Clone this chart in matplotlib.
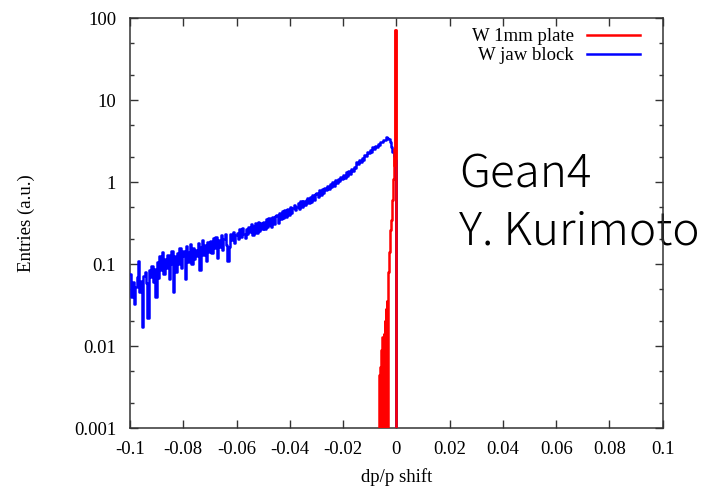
#!/usr/bin/env python3
"""
dp/p shift distribution for W 1mm plate vs W jaw block (Geant4)
"""
import numpy as np
import matplotlib
matplotlib.use('Agg')
import matplotlib.pyplot as plt
from matplotlib.ticker import LogLocator, NullFormatter, FuncFormatter

# --- data ---
# W jaw block: 200 bins of 0.0005 from -0.1 to 0
jaw_lo, jaw_hi = -0.1, 0.0
jaw_entries = [
    0.075, 0.040, 0.060, 0.033, 0.052, 0.070, 0.110, 0.045, 0.062, 0.017,
    0.072, 0.080, 0.058, 0.022, 0.085, 0.070, 0.095, 0.060, 0.088, 0.040,
    0.105, 0.068, 0.125, 0.085, 0.140, 0.075, 0.115, 0.090, 0.130, 0.065,
    0.100, 0.145, 0.045, 0.125, 0.080, 0.135, 0.100, 0.155, 0.090, 0.125,
    0.145, 0.065, 0.165, 0.105, 0.140, 0.175, 0.100, 0.155, 0.115, 0.150,
    0.125, 0.180, 0.085, 0.160, 0.195, 0.130, 0.170, 0.110, 0.185, 0.140,
    0.190, 0.135, 0.205, 0.155, 0.215, 0.120, 0.195, 0.160, 0.225, 0.150,
    0.200, 0.235, 0.170, 0.110, 0.160, 0.230, 0.195, 0.245, 0.180, 0.225,
    0.240, 0.200, 0.265, 0.215, 0.275, 0.230, 0.205, 0.265, 0.235, 0.280,
    0.245, 0.310, 0.225, 0.295, 0.320, 0.240, 0.330, 0.255, 0.315, 0.265,
    0.330, 0.265, 0.355, 0.280, 0.365, 0.300, 0.285, 0.375, 0.310, 0.385,
    0.395, 0.320, 0.425, 0.350, 0.445, 0.365, 0.460, 0.375, 0.475, 0.395,
    0.490, 0.420, 0.480, 0.530, 0.455, 0.500, 0.560, 0.470, 0.585, 0.500,
    0.590, 0.520, 0.605, 0.645, 0.550, 0.665, 0.575, 0.695, 0.605, 0.720,
    0.735, 0.660, 0.790, 0.690, 0.820, 0.745, 0.840, 0.790, 0.905, 0.830,
    0.950, 0.865, 1.010, 0.905, 1.060, 0.965, 1.080, 1.020, 1.160, 1.075,
    1.220, 1.120, 1.310, 1.180, 1.360, 1.265, 1.440, 1.345, 1.540, 1.480,
    1.740, 1.640, 1.870, 1.750, 1.980, 1.880, 2.120, 2.050, 2.300, 2.240,
    2.490, 2.350, 2.640, 2.500, 2.760, 2.680, 2.940, 2.860, 3.120, 3.050,
    3.300, 3.250, 3.500, 3.420, 3.380, 3.050, 2.700, 2.350, 2.050, 1.850,
]

# W 1mm plate: 32 bins of 0.0002 from -0.0066 to -0.0002 (0 = empty bin)
plate_lo, plate_hi = -0.0066, -0.0002
plate_entries = [
    0, 0.0045, 0, 0.0055, 0, 0.009, 0, 0.013, 0, 0.014,
    0, 0.020, 0, 0.028, 0, 0.035, 0, 0.060, 0.080, 0.10,
    0.14, 0.19, 0.26, 0.34, 0.45, 0.60, 0.80, 1.10, 1.60, 2.50,
    16.0, 72.0,
]

x_ticks = [-0.1, -0.08, -0.06, -0.04, -0.02, 0, 0.02, 0.04, 0.06, 0.08, 0.1]
y_ticks = [0.001, 0.01, 0.1, 1, 10, 100]


def step_xy(lo, hi, vals, open_left=False):
    # histogram outline, dropping to zero at the ends
    edges = np.linspace(lo, hi, len(vals) + 1)
    xs = np.repeat(edges, 2)
    ys = np.concatenate([[0], np.repeat(vals, 2), [0]])
    if open_left:
        xs, ys = xs[1:], ys[1:]
    return xs, ys


plt.rcParams['font.family'] = ['Liberation Serif', 'DejaVu Serif']
plt.rcParams['axes.unicode_minus'] = False
plt.rcParams['path.simplify'] = False

fig = plt.figure(figsize=(7.18, 4.87), dpi=100)
ax = fig.add_axes([0.181, 0.121, 0.742, 0.842])

px, py = step_xy(plate_lo, plate_hi, plate_entries)
jx, jy = step_xy(jaw_lo, jaw_hi, jaw_entries, open_left=True)
ax.plot(px, py, color='#ff0000', linewidth=1.8, label='W 1mm plate', zorder=3)
ax.plot(jx, jy, color='#0000ff', linewidth=1.8, label='W jaw block', zorder=4)
# spike of the plate histogram sits on top of the jaw curve
ax.plot(px[-8:], py[-8:], color='#ff0000', linewidth=1.8, zorder=5)

ax.set_yscale('log')
ax.set_xlim(-0.1, 0.1)
ax.set_ylim(0.001, 100)

ax.set_xticks(x_ticks)
ax.xaxis.set_major_formatter(FuncFormatter(lambda v, p: f'{v:g}'))
ax.set_yticks(y_ticks)
ax.yaxis.set_major_formatter(FuncFormatter(lambda v, p: f'{v:g}'))
ax.yaxis.set_minor_locator(LogLocator(base=10, subs=(2, 5)))
ax.yaxis.set_minor_formatter(NullFormatter())

ax.tick_params(which='both', direction='in', top=True, right=True,
               color='#333333', labelsize=13.5)
ax.tick_params(which='major', length=6, width=1)
ax.tick_params(which='minor', length=3, width=1)
ax.tick_params(axis='y', pad=10)
ax.tick_params(axis='x', pad=9)
for s in ax.spines.values():
    s.set_color('#333333')
    s.set_linewidth(1.1)

ax.set_xlabel('dp/p shift', fontsize=13.5)
ax.set_ylabel('Entries (a.u.)', fontsize=13.5)
ax.yaxis.set_label_coords(-0.178, 0.5)
ax.xaxis.set_label_coords(0.5, -0.098)

ax.legend(loc='upper right', bbox_to_anchor=(0.957, 0.975), frameon=False,
          markerfirst=False, fontsize=13.5, handlelength=2.8,
          handletextpad=0.7, labelspacing=0.1, borderpad=0, borderaxespad=0)

ax.text(0.639, 0.614, 'Gean4', transform=fig.transFigure, fontsize=33,
        family=['Noto Sans CJK JP', 'DejaVu Sans'], fontweight='light',
        ha='left', va='baseline', clip_on=False, zorder=2)
ax.text(0.639, 0.497, 'Y. Kurimoto', transform=fig.transFigure, fontsize=33,
        family=['Noto Sans CJK JP', 'DejaVu Sans'], fontweight='light',
        ha='left', va='baseline', clip_on=False, zorder=2)

fig.savefig('out.png', dpi=100)
